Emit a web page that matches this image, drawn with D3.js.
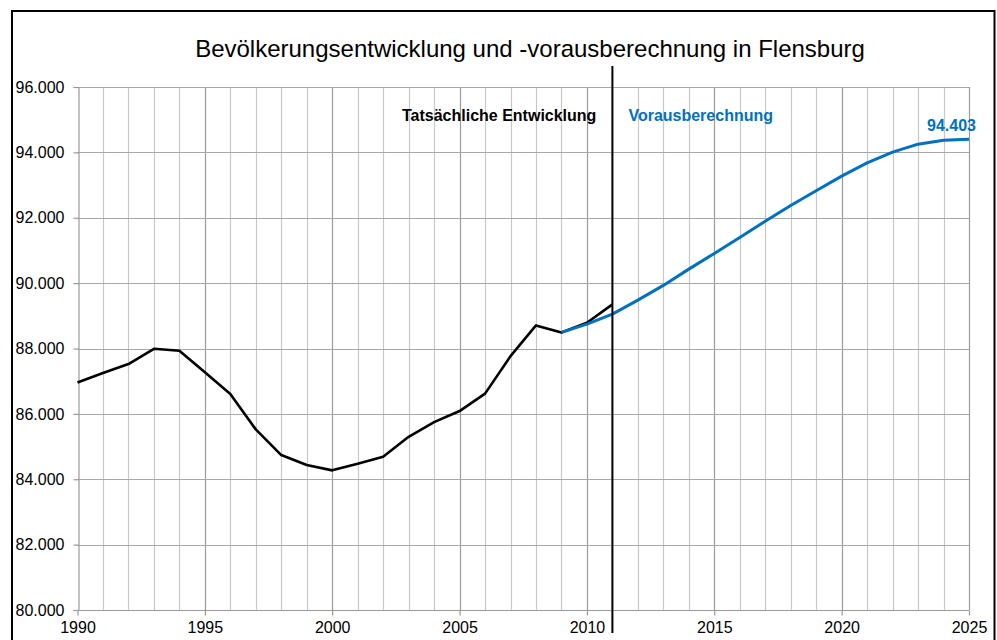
<!DOCTYPE html>
<html><head><meta charset="utf-8">
<script src="https://cdn.jsdelivr.net/npm/d3@7"></script>
<style>
html,body{margin:0;padding:0;background:#fff;}
svg{display:block;font-family:"Liberation Sans",Arial,sans-serif;}
</style></head>
<body>
<svg id="chart" width="997" height="640"></svg>
<script>
const title = "Bevölkerungsentwicklung und -vorausberechnung in Flensburg";
const actualYears = d3.range(1990, 2012);
const actualValues = [86960, 87250, 87523, 87991, 87930, 87270, 86610, 85526, 84740, 84434, 84272, 84474, 84688, 85300, 85749, 86086, 86620, 87767, 88706, 88492, 88786, 89349];
const forecastYears = d3.range(2009, 2026);
const forecastValues = [88492, 88746, 89052, 89480, 89930, 90428, 90908, 91397, 91896, 92376, 92824, 93272, 93679, 94006, 94251, 94373, 94403];
const yTicks = [80000, 82000, 84000, 86000, 88000, 90000, 92000, 94000, 96000];
const xTicks = [1990, 1995, 2000, 2005, 2010, 2015, 2020, 2025];
const splitYear = 2011;
const labelActual = "Tatsächliche Entwicklung";
const labelForecast = "Vorausberechnung";

const blue = "#0070C0";
const svg = d3.select("#chart");
const de = d3.formatLocale({decimal: ",", thousands: ".", grouping: [3], currency: ["", "€"]});
const fmt = de.format(",d");

const x = d3.scaleLinear().domain([1990, 2025]).range([77.5, 969]);
const y = d3.scaleLinear().domain([80000, 96000]).range([610, 87]);

// outer frame
svg.append("rect").attr("x", 12).attr("y", 11).attr("width", 982.5).attr("height", 640)
  .attr("fill", "none").attr("stroke", "#000").attr("stroke-width", 2);

// title
svg.append("text").attr("x", 530).attr("y", 57).attr("text-anchor", "middle")
  .attr("font-size", 24).attr("fill", "#000").text(title);

// vertical grid
const g = svg.append("g");
g.selectAll("line.v").data(d3.range(1991, 2026)).join("line")
  .attr("x1", d => Math.round(x(d)) + 0.5).attr("x2", d => Math.round(x(d)) + 0.5)
  .attr("y1", y(96000)).attr("y2", y(80000))
  .attr("stroke", d => d % 5 === 0 ? "#9a9a9a" : "#c8c8c8").attr("stroke-width", 1.2);
// horizontal grid
g.selectAll("line.h").data(yTicks.slice(1)).join("line")
  .attr("x1", x(1990)).attr("x2", x(2025))
  .attr("y1", d => Math.round(y(d)) + 0.5).attr("y2", d => Math.round(y(d)) + 0.5)
  .attr("stroke", "#a8a8a8").attr("stroke-width", 1.2);

// axes
const yAxis = svg.append("g").attr("transform", `translate(${Math.round(x(1990)) + 0.5},0)`)
  .call(d3.axisLeft(y).tickValues(yTicks).tickSize(5).tickPadding(9).tickFormat(fmt));
const xAxis = svg.append("g").attr("transform", `translate(0,${Math.round(y(80000)) + 0.5})`)
  .call(d3.axisBottom(x).tickValues(xTicks).tickSize(5).tickPadding(6).tickFormat(d3.format("d")));
[yAxis, xAxis].forEach(a => {
  a.select(".domain").attr("stroke", "#9a9a9a").attr("stroke-width", 1.2);
  a.selectAll(".tick line").attr("stroke", "#9a9a9a").attr("stroke-width", 1.2);
  a.selectAll("text").attr("font-size", 16).attr("fill", "#000")
    .attr("font-family", "'Liberation Sans', Arial, sans-serif");
});
xAxis.select(".domain").attr("d", `M${x(1990)},0H${x(2025)}`);

// lines
const line = d3.line().x(d => x(d[0])).y(d => y(d[1]));
svg.append("path").datum(actualYears.map((yr, i) => [yr, actualValues[i]]))
  .attr("d", line).attr("fill", "none").attr("stroke", "#000").attr("stroke-width", 2.6)
  .attr("stroke-linejoin", "round");
svg.append("path").datum(forecastYears.map((yr, i) => [yr, forecastValues[i]]))
  .attr("d", line).attr("fill", "none").attr("stroke", blue).attr("stroke-width", 3)
  .attr("stroke-linejoin", "round");

// split line
svg.append("line").attr("x1", x(splitYear)).attr("x2", x(splitYear))
  .attr("y1", 66).attr("y2", 633).attr("stroke", "#000").attr("stroke-width", 2);

// labels
svg.append("text").attr("x", x(splitYear) - 16).attr("y", 121).attr("text-anchor", "end")
  .attr("font-size", 16).attr("font-weight", "bold").attr("fill", "#000").text(labelActual);
svg.append("text").attr("x", x(splitYear) + 16).attr("y", 121).attr("text-anchor", "start")
  .attr("font-size", 16).attr("font-weight", "bold").attr("fill", blue).text(labelForecast);
const last = forecastValues[forecastValues.length - 1];
svg.append("text").attr("x", x(2025) + 7).attr("y", y(last) - 8).attr("text-anchor", "end")
  .attr("font-size", 16).attr("font-weight", "bold").attr("fill", blue).text(fmt(last));
</script>
</body></html>
